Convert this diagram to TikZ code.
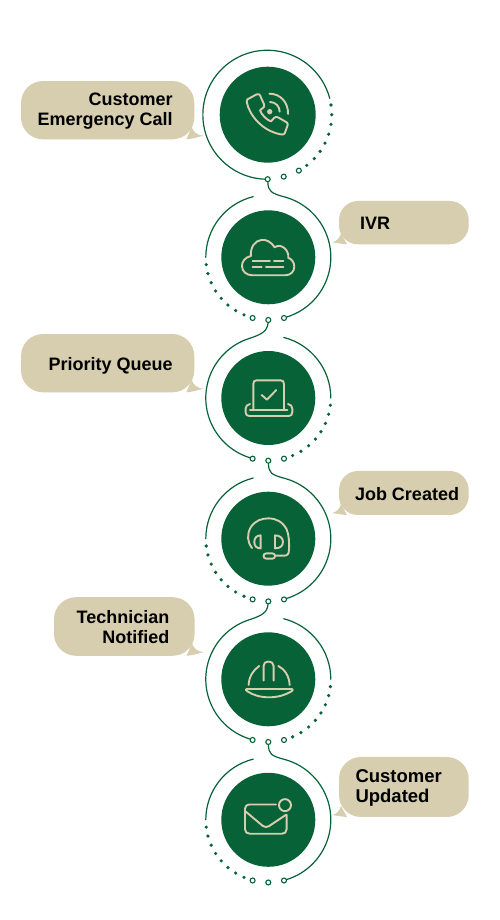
\documentclass[tikz,border=0pt]{standalone}
\usepackage{fontspec}
\setmainfont{Liberation Sans}
\usetikzlibrary{calc}
\definecolor{dgreen}{HTML}{086238}
\definecolor{tan}{HTML}{D6CEAE}
\tikzset{
  disc/.style={circle,fill=dgreen,inner sep=0pt,minimum size=#1},
  ringline/.style={draw=dgreen,line width=1.2pt,line cap=round},
  joint/.style={circle,draw=dgreen,fill=white,line width=1.1pt,inner sep=0pt,minimum size=5pt},
  dotmark/.style={fill=dgreen},
  bubble/.style={fill=tan,rounded corners=#1,inner sep=0pt,outer sep=0pt},
  btext/.style={inner sep=0pt,outer sep=0pt,text=black,font=\fontsize{#1}{20}\selectfont\bfseries},
  iconline/.style={draw=tan,line width=1.9pt,line cap=round,line join=round},
  icon/.style n args={3}{x=.33333pt,y=-.33333pt,shift={(#1)},shift={(-#2,-#3)}},
}
\newcommand{\lefttail}[1]{\fill[tan] ($(#1.south east)+(-2.6,12.6)$) .. controls +(1.4,-5.5) and +(-6,.6) .. ($(#1.south east)+(9,3.6)$) .. controls +(-5,-1.2) and +(6,.4) .. ($(#1.south east)+(-8,0)$) -- cycle;}
\newcommand{\righttail}[1]{\fill[tan] ($(#1.south west)+(2,11)$) .. controls +(-1.2,-5) and +(4,.8) .. ($(#1.south west)+(-6.7,2)$) .. controls +(4,-.8) and +(-5,.4) .. ($(#1.south west)+(8,0)$) -- cycle;}
\begin{document}
\begin{tikzpicture}[x=1pt,y=1pt]
\useasboundingbox (0,0) rectangle (500,920);
\fill[white] (0,0) rectangle (500,920);
% discs
\node[disc=96pt] (d1) at (267.7,805.3) {};
\node[disc=94pt] (d2) at (268.3,662.7) {};
\node[disc=94pt] (d3) at (268.3,522) {};
\node[disc=94pt] (d4) at (268.3,381.3) {};
\node[disc=94pt] (d5) at (268.3,240.7) {};
\node[disc=94pt] (d6) at (268.3,100.2) {};
% joints
\node[joint] (j1) at ($(d1)+(270:64.5)$) {};
\node[joint] (j2) at ($(d2)+(270:62.7)$) {};
\node[joint] (j3) at ($(d3)+(270:62.7)$) {};
\node[joint] (j4) at ($(d4)+(270:62.7)$) {};
\node[joint] (j5) at ($(d5)+(270:62.7)$) {};
\node[joint] (j6) at ($(d6)+(270:62.7)$) {};
% ring 1
\draw[ringline] (j1.west) arc[start angle=267.6,end angle=14.7,radius=64.5];
\foreach \a in {8.7,0,-8.7,-17.7,-26.4,-35,-43.3,-52.4}
  \fill[dotmark] ($(d1)+(\a:64)$) circle (1.8);
\foreach \a in {-60.9,-75.5}
  \node[joint] at ($(d1)+(\a:64)$) {};
% even rings
\foreach \d/\j in {d2/j1,d4/j3,d6/j5}{
  \draw[ringline] (\j) .. controls +(.5,-12) and +(-13.5,3.6) .. ($(\d)+(75:62.5)$) arc[start angle=75,end angle=-73,radius=62.5];
  \node[joint] at ($(\d)+(-75.5:62.7)$) {};
  \draw[ringline] ($(\d)+(104:62.5)$) arc[start angle=104,end angle=180,radius=62.5];
  \foreach \a in {186.7,195.1,204,212.6,221.1,229.8,238.5,247.1}
    \fill[dotmark] ($(\d)+(\a:62.5)$) circle (1.8);
  \node[joint] at ($(\d)+(255.5:62.7)$) {};
}
% odd rings
\foreach \d/\j in {d3/j2,d5/j4}{
  \draw[ringline] (\j) .. controls +(-1,-11) and +(13.3,4.3) .. ($(\d)+(108:62.5)$) arc[start angle=108,end angle=253,radius=62.5];
  \node[joint] at ($(\d)+(255.5:62.7)$) {};
  \draw[ringline] ($(\d)+(75.7:62.5)$) arc[start angle=75.7,end angle=0,radius=62.5];
  \foreach \a in {-6.7,-15.1,-24,-32.6,-41.1,-49.8,-58.5,-67.1}
    \fill[dotmark] ($(\d)+(\a:62.5)$) circle (1.8);
  \node[joint] at ($(\d)+(-75.5:62.7)$) {};
}
% bubbles
\node[bubble=22pt,minimum width=173.3pt,minimum height=58.3pt] (b1) at (107.65,809.8) {};
\lefttail{b1}
\node[btext=18,anchor=east,align=right] (t1) at ($(b1.east)+(-21.6,-.5)$) {Customer\\Emergency Call};
\node[bubble=19pt,minimum width=129.7pt,minimum height=43.3pt] (b2) at (403.85,697.35) {};
\righttail{b2}
\node[btext=18,anchor=west,align=left] (t2) at ($(b2.west)+(21,-1)$) {IVR};
\node[bubble=22pt,minimum width=173.3pt,minimum height=58.3pt] (b3) at (107.65,556.8) {};
\lefttail{b3}
\node[btext=18,anchor=east,align=right] (t3) at ($(b3.east)+(-21.6,-2.5)$) {Priority Queue};
\node[bubble=19pt,minimum width=129.7pt,minimum height=44pt] (b4) at (403.85,427) {};
\righttail{b4}
\node[btext=18,anchor=west,align=left] (t4) at ($(b4.west)+(16,-1)$) {Job Created};
\node[bubble=22pt,minimum width=140.6pt,minimum height=58.6pt] (b5) at (124.3,293.5) {};
\lefttail{b5}
\node[btext=18,anchor=east,align=right] (t5) at ($(b5.east)+(-25.3,-.5)$) {Technician\\Notified};
\node[bubble=22pt,minimum width=129.7pt,minimum height=60pt] (b6) at (403.85,133) {};
\righttail{b6}
\node[btext=18.5,anchor=west,align=left] (t6) at ($(b6.west)+(16.5,-1)$) {Customer\\Updated};
% phone
\begin{scope}[icon={d1}{233}{224}]
  \draw[iconline] (172,178) -- (200,163) .. controls (205,161) and (208,163) .. (210,166) -- (222,193) .. controls (224,198) and (222,202) .. (218,204) -- (210,211) .. controls (215,225) and (230,240) .. (243,244) -- (252,234) .. controls (255,230) and (260,230) .. (264,232) -- (290,247) .. controls (294,250) and (294,254) .. (292,258) -- (284,280) .. controls (282,284) and (278,284) .. (272,283) .. controls (215,272) and (178,225) .. (170,186) .. controls (169,182) and (170,180) .. (172,178) -- cycle;
  \draw[iconline] (240,186) .. controls (256,186) and (269,199) .. (269,215);
  \draw[iconline] (238,161) .. controls (272,161) and (295,188) .. (294,222);
  \fill[tan] (239,215) circle (8);
\end{scope}
% cloud
\begin{scope}[icon={d2}{235}{232}]
  \draw[iconline] (188,286) -- (285,286) .. controls (302,286) and (313,275) .. (313,260) .. controls (313,247) and (305,237) .. (295,234) .. controls (298,212) and (275,188) .. (254,202) .. controls (243,185) and (228,178) .. (215,180) .. controls (195,181) and (180,203) .. (183,228) .. controls (165,232) and (156,245) .. (156,258) .. controls (156,275) and (170,286) .. (188,286) -- cycle;
  \draw[iconline] (188,244) -- (240,244) (252,244) -- (280,244) (188,261) -- (215,261) (228,261) -- (280,261);
\end{scope}
% laptop
\begin{scope}[icon={d3}{235}{204}]
  \draw[iconline] (190,240) -- (190,162) .. controls (190,154) and (194,151) .. (200,151) -- (272,151) .. controls (279,151) and (282,155) .. (282,162) -- (282,240);
  \draw[iconline] (180,222) .. controls (172,224) and (167,228) .. (167,236) -- (167,247) .. controls (167,254) and (171,258) .. (178,258) -- (296,258) .. controls (303,258) and (307,254) .. (307,247) -- (307,236) .. controls (307,228) and (302,224) .. (294,222);
  \draw[iconline] (180,240) -- (292,240);
  \draw[iconline] (215,195) -- (231,209) -- (259,180);
\end{scope}
% headset
\begin{scope}[icon={d4}{235}{206}]
  \draw[iconline] (186,234) .. controls (172,215) and (170,195) .. (182,172) .. controls (195,152) and (215,145) .. (235,145) .. controls (258,145) and (278,155) .. (290,178) .. controls (297,195) and (298,215) .. (297,240) .. controls (297,252) and (292,257) .. (282,257) -- (255,257);
  \draw[iconline] (212,196) -- (212,235) .. controls (200,235) and (193,228) .. (193,216) .. controls (193,204) and (200,196) .. (212,196) -- cycle;
  \draw[iconline] (255,196) -- (255,235) .. controls (270,235) and (279,228) .. (279,216) .. controls (279,204) and (270,196) .. (255,196) -- cycle;
  \draw[iconline] (229,250) -- (247,250) .. controls (258,250) and (258,266) .. (247,266) -- (229,266) .. controls (218,266) and (218,250) .. (229,250) -- cycle;
\end{scope}
% helmet
\begin{scope}[icon={d5}{235}{208}]
  \draw[iconline] (170,237) -- (305,237) .. controls (310,237) and (309,241) .. (305,244) .. controls (285,256) and (262,262) .. (237,262) .. controls (212,262) and (190,256) .. (172,244) .. controls (167,241) and (166,237) .. (170,237) -- cycle;
  \draw[iconline] (176,225) .. controls (177,200) and (190,180) .. (208,168);
  \draw[iconline] (221,212) -- (221,168) .. controls (221,159) and (226,155) .. (234,155) .. controls (245,155) and (251,160) .. (251,168) -- (251,212);
  \draw[iconline] (265,168) .. controls (285,178) and (298,200) .. (299,225);
\end{scope}
% envelope
\begin{scope}[icon={d6}{235}{210}]
  \draw[iconline] (258,164) -- (180,164) .. controls (170,164) and (165,170) .. (165,180) -- (165,238) .. controls (165,247) and (171,252) .. (180,252) -- (275,252) .. controls (284,252) and (290,247) .. (290,238) -- (290,195);
  \draw[iconline] (168,186) -- (218,228) .. controls (224,233) and (231,233) .. (237,229) -- (288,195);
  \draw[iconline] (285,166) circle (18);
\end{scope}
\end{tikzpicture}
\end{document}
